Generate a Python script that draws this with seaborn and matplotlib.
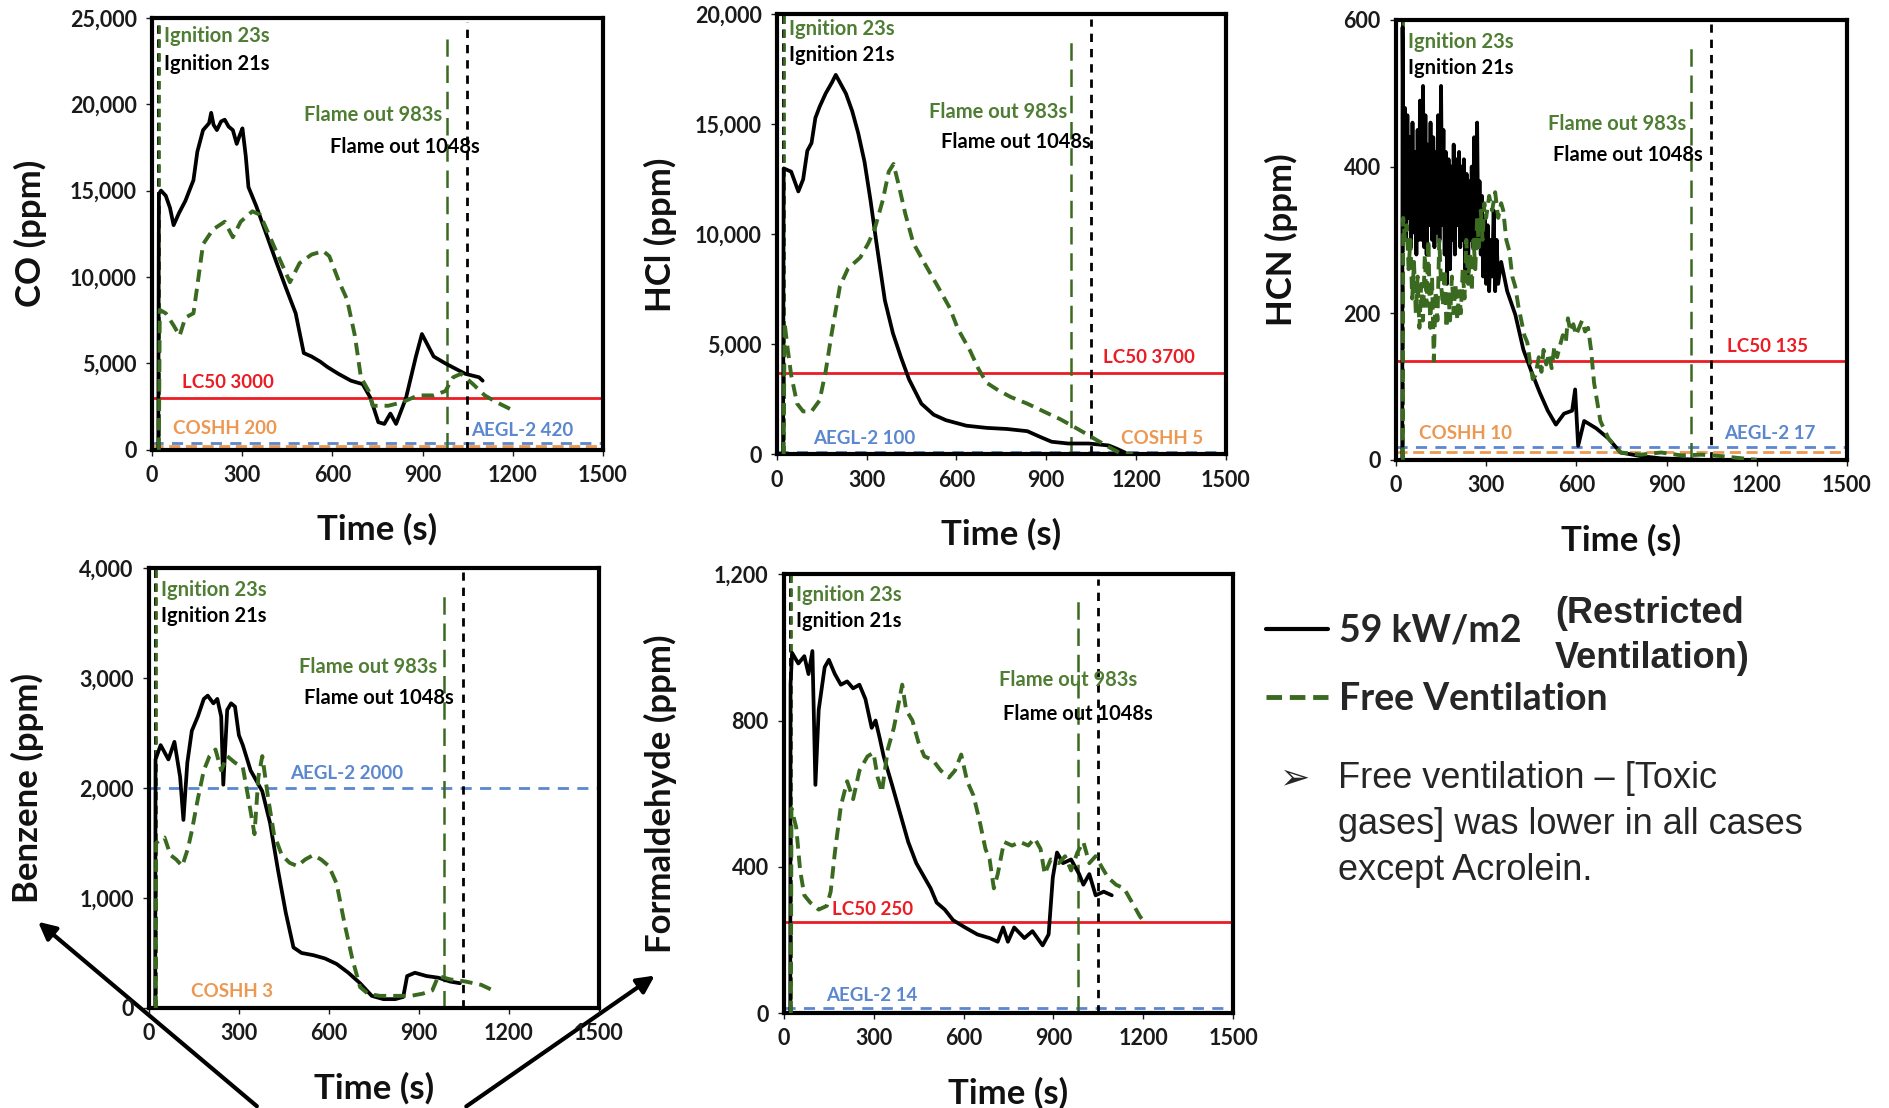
import matplotlib
matplotlib.use("Agg")
import matplotlib.pyplot as plt
import seaborn as sns
import pandas as pd
from matplotlib.lines import Line2D
from matplotlib.ticker import StrMethodFormatter

# ---- data ----
# CO
co_t_r = [21, 23, 30, 46, 60, 72, 90, 111, 138, 151, 170, 190, 197, 205, 216, 230, 242, 255, 269, 282,
          292, 301, 312, 321, 347, 380, 413, 445, 478, 505, 531, 560, 583, 620, 662, 701, 727, 753, 773,
          793, 812, 845, 878, 898, 937, 976, 1042, 1088, 1100]
co_r = [0, 14800, 15000, 14700, 14000, 13000, 13700, 14400, 15600, 17250, 18500, 18900, 19500, 18800,
        18500, 19000, 19100, 18700, 18500, 17700, 18200, 18600, 17000, 15200, 14100, 12500, 10900, 9400,
        7900, 5600, 5400, 5100, 4800, 4400, 4000, 3800, 3000, 1600, 1500, 2100, 1500, 3000, 5400, 6700,
        5400, 5000, 4400, 4200, 4000]
co_t_f = [23, 26, 46, 72, 92, 111, 138, 151, 170, 203, 242, 269, 295, 334, 360, 413, 459, 491, 531, 570,
          590, 623, 649, 675, 695, 708, 721, 734, 760, 786, 832, 885, 937, 976, 1002, 1028, 1068, 1107,
          1147, 1193]
co_f = [0, 8100, 7900, 7200, 6600, 7650, 7900, 9500, 11900, 12750, 13200, 12300, 13200, 13800, 13600,
        11500, 9700, 10800, 11300, 11500, 11200, 9700, 8700, 6600, 4200, 3800, 3400, 2550, 2550, 2550,
        2750, 3150, 3150, 3400, 4200, 4400, 3800, 3150, 2750, 2350]

# HCl
hcl_t_r = [21, 23, 48, 72, 88, 102, 116, 129, 143, 163, 184, 197, 211, 231, 252, 272, 293, 313, 333, 361,
           388, 415, 442, 483, 524, 565, 633, 701, 769, 837, 878, 918, 973, 1041, 1109, 1136, 1163]
hcl_r = [0, 13000, 12850, 11950, 12500, 13800, 14150, 15300, 15800, 16400, 16900, 17250, 16900, 16400,
         15600, 14600, 13300, 11550, 9600, 7000, 5500, 4400, 3400, 2300, 1800, 1550, 1300, 1200, 1150,
         1050, 800, 570, 490, 490, 400, 250, 80]
hcl_t_f = [23, 26, 34, 48, 68, 88, 116, 143, 163, 184, 211, 238, 279, 306, 327, 354, 374, 390, 408, 429,
           456, 497, 537, 578, 605, 646, 673, 701, 741, 782, 837, 891, 946, 986, 1027, 1068, 1109, 1143, 1190]
hcl_f = [0, 6000, 5050, 3600, 2300, 1950, 1950, 2450, 3750, 5550, 7650, 8450, 8950, 9600, 10250, 11550,
         12850, 13200, 12200, 10950, 9600, 8600, 7650, 6650, 5700, 4700, 3900, 3250, 2900, 2600, 2300,
         1950, 1600, 1300, 980, 650, 330, 80, 0]

# HCN (very noisy signal, read as a dense band)
hcn_t_r = [21, 22, 26, 30, 34, 38, 42, 46, 50, 55, 60, 64, 68, 72, 76, 80, 85, 90, 94, 98, 102, 106, 110,
           115, 120, 124, 128, 132, 136, 140, 145, 150, 154, 158, 162, 166, 170, 175, 180, 184, 188, 192,
           196, 200, 205, 210, 214, 218, 222, 226, 230, 235, 240, 244, 248, 252, 256, 260, 265, 270, 274,
           278, 282, 286, 290, 295, 300, 305, 310, 315, 320, 325, 330, 335, 340, 350, 370, 397, 424, 451,
           478, 505, 532, 559, 586, 596, 606, 626, 666, 707, 747, 814, 882, 1016]
hcn_r = [0, 590, 330, 480, 300, 470, 330, 440, 290, 460, 310, 420, 280, 450, 300, 490, 300, 510, 290, 470,
         280, 430, 320, 460, 300, 440, 290, 420, 310, 470, 300, 510, 320, 450, 280, 420, 240, 410, 260,
         400, 300, 430, 280, 410, 320, 420, 290, 400, 300, 410, 260, 390, 250, 380, 300, 400, 290, 440,
         300, 460, 290, 380, 280, 360, 250, 330, 240, 320, 230, 300, 250, 340, 230, 300, 240, 270, 230,
         198, 150, 120, 92, 67, 48, 63, 67, 96, 19, 53, 43, 29, 10, 5, 2, 0]
hcn_t_f = [23, 24, 30, 36, 42, 48, 54, 60, 66, 72, 78, 84, 90, 96, 102, 108, 114, 120, 126, 132, 138, 144,
           150, 156, 162, 168, 174, 180, 186, 192, 198, 204, 210, 216, 222, 228, 234, 240, 246, 252, 258,
           264, 270, 276, 282, 288, 294, 300, 310, 320, 330, 340, 350, 357, 367, 377, 387, 397, 407, 417,
           427, 437, 447, 455, 464, 475, 484, 491, 500, 509, 518, 527, 536, 545, 555, 565, 572, 580, 590,
           599, 609, 619, 629, 639, 649, 659, 669, 680, 707, 747, 814, 882, 950, 1016, 1083, 1151, 1200]
hcn_f = [0, 330, 300, 320, 260, 300, 220, 270, 200, 250, 180, 240, 190, 280, 210, 300, 180, 250, 135, 230,
         190, 300, 240, 210, 260, 180, 230, 190, 250, 200, 240, 190, 230, 200, 260, 220, 300, 240, 280,
         230, 300, 260, 330, 290, 340, 300, 350, 330, 360, 340, 365, 330, 350, 340, 300, 285, 250, 236,
         210, 190, 170, 160, 130, 110, 115, 140, 120, 150, 130, 145, 125, 155, 140, 155, 170, 160, 193,
         175, 185, 170, 180, 190, 175, 180, 150, 105, 80, 53, 29, 10, 7, 10, 6, 7, 5, 2, 0]

# Benzene
benz_t_r = [21, 22, 39, 65, 85, 104, 115, 128, 143, 163, 183, 196, 215, 228, 241, 248, 261, 274, 287, 300,
            313, 339, 378, 404, 430, 456, 482, 509, 548, 587, 626, 665, 704, 743, 782, 821, 848, 861, 887,
            926, 965, 1004, 1037]
benz_r = [0, 2260, 2390, 2260, 2420, 2100, 1710, 2230, 2520, 2650, 2810, 2840, 2770, 2810, 2650, 2030,
          2710, 2770, 2740, 2480, 2390, 2160, 1970, 1680, 1260, 870, 550, 500, 480, 450, 400, 320, 225,
          110, 80, 80, 100, 290, 320, 290, 275, 240, 225]
benz_t_f = [23, 24, 33, 52, 72, 91, 111, 130, 143, 163, 183, 202, 222, 241, 261, 287, 313, 332, 352, 365,
            378, 398, 417, 443, 469, 495, 521, 548, 574, 600, 626, 652, 678, 704, 730, 769, 821, 874, 913,
            945, 965, 1004, 1056, 1108, 1147, 1160]
benz_f = [0, 1500, 1520, 1550, 1390, 1350, 1290, 1450, 1610, 1900, 2160, 2290, 2350, 2160, 2290, 2230,
          2190, 1900, 1580, 2100, 2290, 1900, 1580, 1390, 1320, 1290, 1350, 1390, 1350, 1290, 1130, 770,
          450, 190, 130, 110, 110, 110, 130, 160, 290, 260, 240, 210, 160, 145]

# Formaldehyde
form_t_r = [21, 22, 27, 48, 68, 82, 95, 105, 116, 136, 150, 170, 190, 211, 231, 252, 272, 293, 306, 320,
            333, 361, 388, 415, 442, 469, 490, 510, 537, 565, 605, 646, 687, 714, 732, 748, 769, 803, 830,
            864, 884, 898, 912, 932, 959, 986, 1000, 1020, 1041, 1068, 1095]
form_r = [0, 900, 985, 956, 976, 927, 990, 624, 829, 946, 966, 927, 898, 907, 888, 898, 859, 780, 800,
          751, 702, 624, 546, 468, 410, 371, 341, 302, 283, 254, 234, 215, 205, 195, 234, 195, 234, 205,
          224, 185, 215, 371, 439, 410, 420, 380, 351, 380, 322, 332, 322]
form_t_f = [23, 25, 41, 54, 68, 88, 116, 143, 156, 170, 190, 211, 231, 252, 279, 299, 313, 327, 347, 367,
            381, 395, 408, 429, 449, 469, 497, 524, 551, 571, 592, 612, 633, 653, 673, 687, 701, 714, 735,
            762, 789, 816, 837, 857, 871, 891, 918, 939, 959, 980, 1000, 1020, 1041, 1061, 1082, 1109,
            1136, 1163, 1190, 1211]
form_f = [0, 560, 507, 390, 322, 302, 283, 293, 332, 439, 566, 634, 585, 663, 702, 712, 644, 604, 722,
          780, 839, 898, 829, 800, 741, 702, 692, 663, 644, 663, 707, 634, 595, 527, 449, 420, 341, 380,
          468, 458, 468, 458, 478, 449, 380, 420, 410, 429, 390, 439, 468, 410, 429, 400, 371, 351, 341,
          302, 263, 244]

ignition_r, ignition_f = 21, 23
flameout_r, flameout_f = 1048, 983

# ---- styling ----
sns.set_theme(style="ticks")
plt.rcParams['font.family'] = ['Lato', 'DejaVu Sans']

GREEN = '#3a6a1f'
GREEN_TXT = '#4f7d33'
RED = '#ec1c24'
ORANGE = '#ec9852'
BLUE = '#5b87cf'
DASH_F = (0, (3.2, 1.8))

fig = plt.figure(figsize=(18.9, 11.08), dpi=100)

# (left, bottom, width, height) in figure fraction
panels = [
    dict(rect=[0.0804, 0.594, 0.2386, 0.390], t_r=co_t_r, r=co_r, t_f=co_t_f, f=co_f,
         ymax=25000, ystep=5000, ylabel='CO (ppm)', ylab_x=-0.232,
         flame_x=(965, 1090), flame_y=(0.774, 0.70), ign_y=(0.958, 0.894),
         lims=[('LC50', 3000, RED, '-', 100, 3900),
               ('COSHH', 200, ORANGE, (0, (4, 2)), 70, 1250),
               ('AEGL-2', 420, BLUE, (0, (4, 3)), 1060, 1120)]),
    dict(rect=[0.411, 0.590, 0.2376, 0.397], t_r=hcl_t_r, r=hcl_r, t_f=hcl_t_f, f=hcl_f,
         ymax=20000, ystep=5000, ylabel='HCl (ppm)', ylab_x=-0.222,
         flame_x=(970, 1050), flame_y=(0.778, 0.71), ign_y=(0.967, 0.907),
         lims=[('LC50', 3700, RED, '-', 1090, 4400),
               ('AEGL-2', 100, BLUE, (0, (4, 3)), 120, 710),
               ('COSHH', 5, ORANGE, (0, (4, 2)), 1150, 710)]),
    dict(rect=[0.7386, 0.585, 0.2386, 0.397], t_r=hcn_t_r, r=hcn_r, t_f=hcn_t_f, f=hcn_f,
         ymax=600, ystep=200, ylabel='HCN (ppm)', ylab_x=-0.217,
         flame_x=(965, 1020), flame_y=(0.764, 0.693), ign_y=(0.95, 0.89),
         lims=[('LC50', 135, RED, '-', 1100, 155),
               ('COSHH', 10, ORANGE, (0, (4, 2)), 75, 36),
               ('AEGL-2', 17, BLUE, (0, (4, 3)), 1090, 36)]),
    dict(rect=[0.0788, 0.0903, 0.238, 0.397], t_r=benz_t_r, r=benz_r, t_f=benz_t_f, f=benz_f,
         ymax=4000, ystep=1000, ylabel='Benzene (ppm)', ylab_x=-0.233,
         flame_x=(960, 1015), flame_y=(0.775, 0.704), ign_y=(0.95, 0.89),
         lims=[('AEGL-2', 2000, BLUE, (0, (4, 3)), 470, 2130),
               ('COSHH', 3, ORANGE, (0, (4, 2)), 140, 150)]),
    dict(rect=[0.4148, 0.0857, 0.2376, 0.396], t_r=form_t_r, r=form_r, t_f=form_t_f, f=form_f,
         ymax=1200, ystep=400, ylabel='Formaldehyde (ppm)', ylab_x=-0.238,
         flame_x=(1180, 1232), flame_y=(0.758, 0.681), ign_y=(0.953, 0.893),
         lims=[('LC50', 250, RED, '-', 160, 284),
               ('AEGL-2', 14, BLUE, (0, (4, 3)), 140, 49)]),
]

for p in panels:
    ax = fig.add_axes(p['rect'])
    df_r = pd.DataFrame({'Time (s)': p['t_r'], 'ppm': p['r']})
    df_f = pd.DataFrame({'Time (s)': p['t_f'], 'ppm': p['f']})

    # exposure limits
    for name, val, col, ls, lx, ly in p['lims']:
        ax.axhline(val, color=col, ls=ls, lw=2.0, zorder=1)
        ax.text(lx, ly, f'{name} {val}', color=col, fontsize=13.5, fontweight='bold',
                va='center', ha='left', zorder=5)

    sns.lineplot(data=df_r, x='Time (s)', y='ppm', color='black', lw=2.7, sort=False,
                 estimator=None, ax=ax, zorder=3)
    sns.lineplot(data=df_f, x='Time (s)', y='ppm', color=GREEN, lw=2.8, linestyle=DASH_F,
                 sort=False, estimator=None, ax=ax, zorder=4)

    # ignition and flame-out markers
    ax.axvline(ignition_r, color='black', ls=(0, (3, 2)), lw=2.0, zorder=2)
    ax.axvline(ignition_f, color=GREEN, ls=(0, (3, 2)), lw=2.0, zorder=2)
    ax.axvline(flameout_f, ymax=0.95, color=GREEN, ls=(0, (7, 3.5)), lw=1.8, zorder=2)
    ax.axvline(flameout_r, ymax=0.99, color='black', ls=(0, (3, 2.5)), lw=2.0, zorder=2)

    ax.text(40, p['ign_y'][0] * p['ymax'], f'Ignition {ignition_f}s', color=GREEN_TXT,
            fontsize=14.5, fontweight='bold', va='center')
    ax.text(40, p['ign_y'][1] * p['ymax'], f'Ignition {ignition_r}s', color='black',
            fontsize=14.5, fontweight='bold', va='center')
    ax.text(p['flame_x'][0], p['flame_y'][0] * p['ymax'], f'Flame out {flameout_f}s', color=GREEN_TXT,
            fontsize=14.5, fontweight='bold', va='center', ha='right')
    ax.text(p['flame_x'][1], p['flame_y'][1] * p['ymax'], f'Flame out {flameout_r}s', color='black',
            fontsize=14.5, fontweight='bold', va='center', ha='right')

    ax.set_xlim(0, 1500)
    ax.set_ylim(0, p['ymax'])
    ax.set_xticks(range(0, 1501, 300))
    ax.set_yticks(range(0, p['ymax'] + 1, p['ystep']))
    ax.yaxis.set_major_formatter(StrMethodFormatter('{x:,.0f}'))
    ax.tick_params(labelsize=15.5, length=4, width=1, pad=7, colors='#1a1a1a')
    for lab in ax.get_xticklabels() + ax.get_yticklabels():
        lab.set_fontweight('bold')
    for sp in ax.spines.values():
        sp.set_visible(True)
        sp.set_color('black')
        sp.set_linewidth(3)

    ax.set_xlabel('Time (s)', fontsize=25, fontweight='bold', color='#111111')
    ax.set_ylabel(p['ylabel'], fontsize=25, fontweight='bold', color='#111111')
    ax.xaxis.set_label_coords(0.5, -0.145)
    ax.yaxis.set_label_coords(p['ylab_x'], 0.5)

# legend
handles = [Line2D([], [], color='black', lw=3),
           Line2D([], [], color=GREEN, lw=3.5, ls=(0, (3.2, 1.6)))]
fig.legend(handles, ['59 kW/m2', 'Free Ventilation'], loc='upper left',
           bbox_to_anchor=(0.670, 0.446), frameon=False, borderpad=0, borderaxespad=0,
           handlelength=1.65, handletextpad=0.3, labelspacing=0.91,
           prop=dict(family='Lato', weight='bold', size=27))
fig.text(1555 / 1890, 1 - 596 / 1108, '(Restricted\nVentilation)', family='Liberation Sans',
         fontweight='bold', fontsize=26, va='top', ha='left', linespacing=1.37)

# bullet note
fig.text(1280 / 1890, 1 - 778 / 1108, '\u27a2', family='DejaVu Sans', fontsize=26,
         va='center', ha='left')
fig.text(1338 / 1890, 1 - 761 / 1108,
         'Free ventilation \u2013 [Toxic\ngases] was lower in all cases\nexcept Acrolein.',
         family='Liberation Sans', fontsize=26, va='top', ha='left', linespacing=1.40)

# arrows pointing at the benzene / formaldehyde labels
arrow_kw = dict(arrowstyle='-|>', lw=3, color='black', mutation_scale=26)
fig.axes[0].annotate('', xy=(36 / 1890, 1 - 920 / 1108), xytext=(259 / 1890, 0),
                     xycoords='figure fraction', textcoords='figure fraction',
                     arrowprops=arrow_kw, annotation_clip=False)
fig.axes[0].annotate('', xy=(657 / 1890, 1 - 974 / 1108), xytext=(464 / 1890, 0),
                     xycoords='figure fraction', textcoords='figure fraction',
                     arrowprops=arrow_kw, annotation_clip=False)

fig.savefig('out.png', dpi=100)
